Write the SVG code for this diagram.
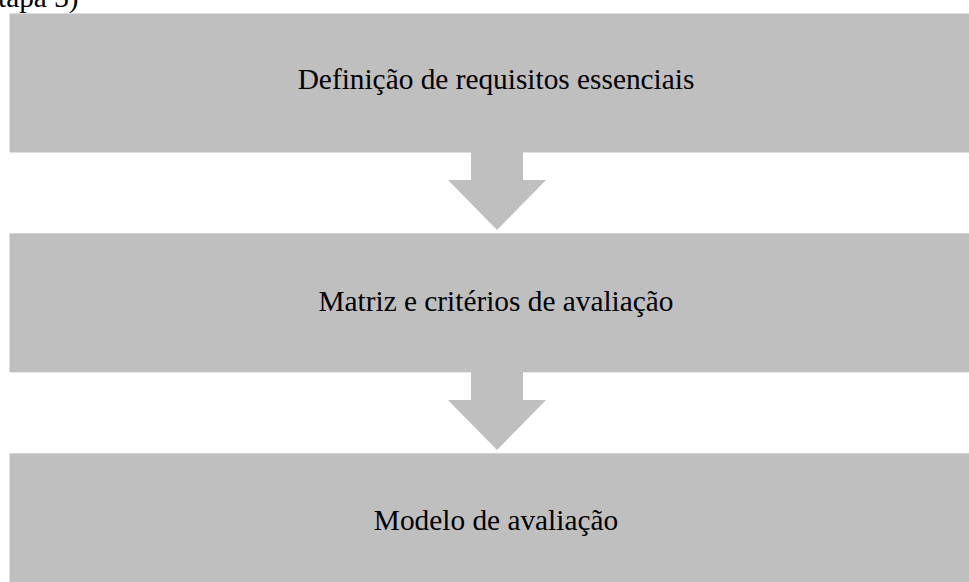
<svg xmlns="http://www.w3.org/2000/svg" width="969" height="582" viewBox="0 0 969 582">
  <style>
    .box { fill: #bfbfbf; }
    .arrow { fill: #bfbfbf; }
    .label { font-family: "Liberation Serif", "Times New Roman", serif; font-size: 29.33px; fill: #000000; text-anchor: middle; }
    .caption { font-family: "Liberation Serif", "Times New Roman", serif; font-size: 29.33px; fill: #000000; }
  </style>
  <rect x="0" y="0" width="969" height="582" fill="#ffffff"/>
  <text class="caption" x="-2" y="7">tapa 3)</text>
  <g id="connectors">
    <polygon class="arrow" points="471,151 523,151 523,180 546,180 497,230 448,180 471,180"/>
    <polygon class="arrow" points="471,371 523,371 523,400 546,400 497,450 448,400 471,400"/>
  </g>
  <g id="node1">
    <rect class="box" x="9.5" y="13.5" width="966" height="139"/>
    <text class="label" x="496" y="89.3">Definição de requisitos essenciais</text>
  </g>
  <g id="node2">
    <rect class="box" x="9.5" y="233.3" width="966" height="139"/>
    <text class="label" x="496" y="310.7">Matriz e critérios de avaliação</text>
  </g>
  <g id="node3">
    <rect class="box" x="9.5" y="453.3" width="966" height="139"/>
    <text class="label" x="496" y="530">Modelo de avaliação</text>
  </g>
</svg>
